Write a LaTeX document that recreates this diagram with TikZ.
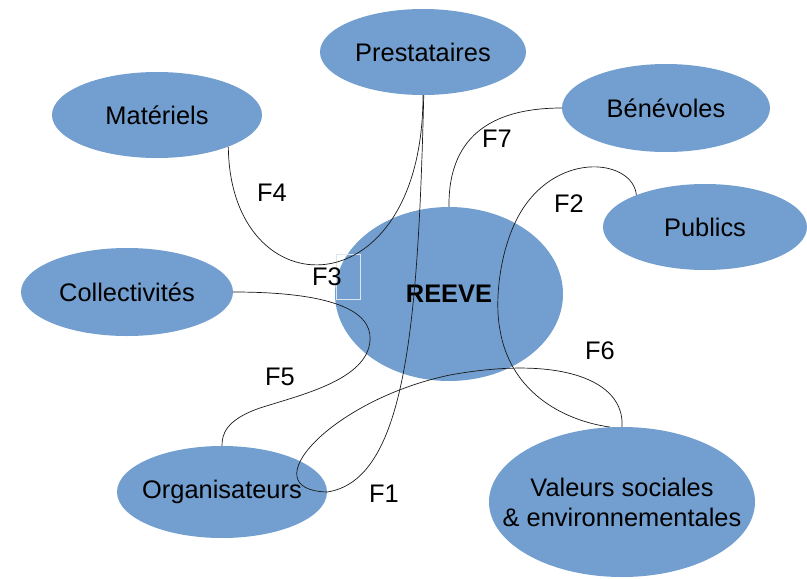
\documentclass[tikz,border=0pt]{standalone}
\usepackage{fontspec}
\setmainfont{Liberation Sans}
\usetikzlibrary{shapes.geometric}
\definecolor{bubble}{HTML}{729FCF}
\definecolor{linkcol}{HTML}{1A1A1A}
\definecolor{boxedge}{HTML}{DDE6F0}
\begin{document}
\begin{tikzpicture}[x=1pt,y=-1pt,
  bub/.style={ellipse, fill=bubble, draw=none, inner sep=0pt},
  txt/.style={font=\fontsize{25.4}{30}\selectfont, text=black, inner sep=0pt},
  link/.style={draw=linkcol, line width=0.7pt},
  flab/.style={font=\fontsize{25.4}{30}\selectfont, text=black, inner sep=0pt}]
\useasboundingbox (0,0) rectangle (807,579);
\fill[white] (0,0) rectangle (807,579);
% bubbles
\node[bub, minimum width=206, minimum height=86, label={[txt]center:Prestataires}] (pre) at (423,52) {};
\node[bub, minimum width=210, minimum height=86, label={[txt]center:Matériels}] (mat) at (157,115) {};
\node[bub, minimum width=208, minimum height=88, label={[txt]center:Bénévoles}] (ben) at (666,108) {};
\node[bub, minimum width=204, minimum height=86, label={[txt]center:Publics}] (pub) at (705,227) {};
\node[bub, minimum width=212, minimum height=88, label={[txt]center:Collectivités}] (col) at (127,292) {};
\node[bub, minimum width=228, minimum height=174, label={[txt,font=\fontsize{25.4}{30}\selectfont\bfseries]center:REEVE}] (ree) at (449,294) {};
\node[bub, minimum width=210, minimum height=92, label={[txt]center:Organisateurs}] (org) at (222,492) {};
\node[bub, minimum width=266, minimum height=150, label={[txt,align=center]center:{Valeurs sociales\\\& environnementales}}] (val) at (622,502) {};
% F3 frame
\node[draw=boxedge, line width=0.8pt, minimum width=24, minimum height=45, inner sep=0pt] (f3box) at (348,276.5) {};
% connectors
\draw[link] (mat.-24) .. controls (230,312) and (423,312) .. (pre.south);
\draw[link] (pre.-89) .. controls (418,330) and (405,480) .. (org.east);
\draw[link] (org.east) .. controls (250,490) and (330,400) .. (450,375)
            .. controls (560,355) and (625,380) .. (val.north);
\draw[link] (pub.155) .. controls (633,160) and (560,150) .. (522,210)
            .. controls (500,245) and (494,300) .. (500,330)
            .. controls (510,390) and (560,420) .. (val.99);
\draw[link] (ree.north) .. controls (448,130) and (500,108) .. (ben.west);
\draw[link] (col.east) .. controls (330,292) and (372,310) .. (370,340)
            .. controls (368,380) and (300,395) .. (260,408)
            .. controls (225,420) and (222,435) .. (org.north);
% labels
\node[flab] (l4) at (272,193) {F4};
\node[flab] (l3) at (327,277) {F3};
\node[flab] (l7) at (497,139) {F7};
\node[flab] (l2) at (569,204) {F2};
\node[flab] (l5) at (280,377) {F5};
\node[flab] (l6) at (600,351) {F6};
\node[flab] (l1) at (384,494) {F1};
\end{tikzpicture}
\end{document}
